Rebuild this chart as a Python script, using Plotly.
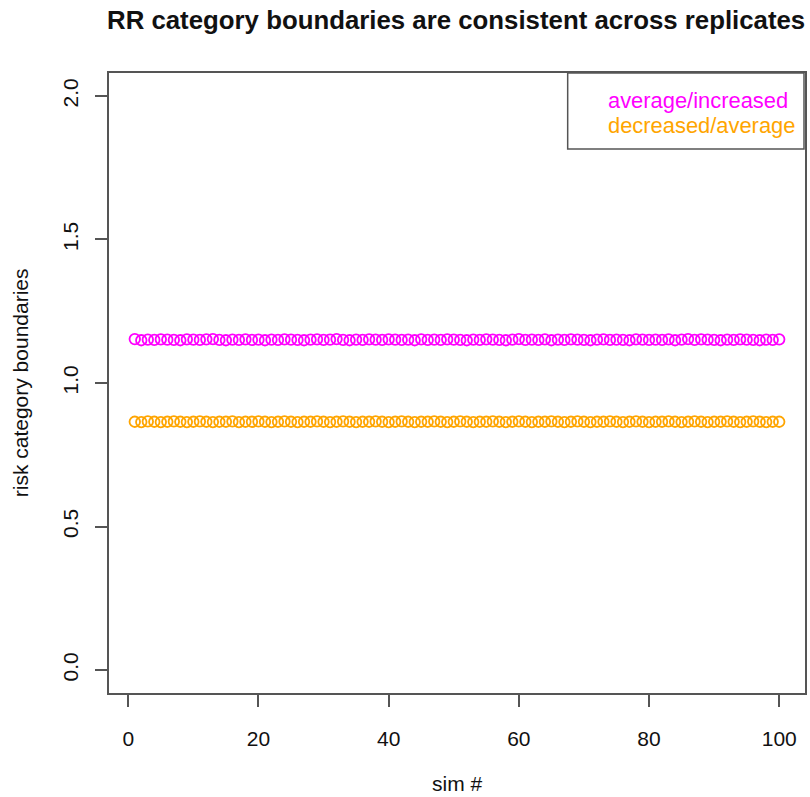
import plotly.graph_objects as go

sim = list(range(1, 101))

avg_increased = [
    1.153, 1.149, 1.151, 1.150, 1.152, 1.151, 1.150, 1.149, 1.152, 1.151,
    1.150, 1.152, 1.153, 1.150, 1.149, 1.151, 1.150, 1.152, 1.150, 1.151,
    1.149, 1.151, 1.150, 1.152, 1.151, 1.150, 1.149, 1.151, 1.152, 1.150,
    1.151, 1.153, 1.150, 1.149, 1.151, 1.150, 1.152, 1.151, 1.150, 1.152,
    1.151, 1.150, 1.151, 1.149, 1.152, 1.150, 1.151, 1.150, 1.152, 1.151,
    1.150, 1.149, 1.151, 1.150, 1.152, 1.151, 1.150, 1.149, 1.151, 1.153,
    1.150, 1.151, 1.150, 1.152, 1.149, 1.151, 1.150, 1.152, 1.151, 1.150,
    1.149, 1.151, 1.152, 1.150, 1.151, 1.150, 1.149, 1.152, 1.151, 1.150,
    1.151, 1.150, 1.152, 1.149, 1.151, 1.153, 1.150, 1.152, 1.151, 1.150,
    1.149, 1.151, 1.150, 1.152, 1.151, 1.150, 1.149, 1.151, 1.150, 1.152,
]

dec_average = [
    0.865, 0.864, 0.866, 0.865, 0.864, 0.865, 0.866, 0.865, 0.864, 0.865,
    0.866, 0.865, 0.864, 0.865, 0.865, 0.866, 0.864, 0.865, 0.865, 0.866,
    0.865, 0.864, 0.865, 0.866, 0.865, 0.864, 0.865, 0.865, 0.866, 0.865,
    0.864, 0.865, 0.866, 0.865, 0.864, 0.865, 0.865, 0.866, 0.865, 0.864,
    0.865, 0.866, 0.865, 0.864, 0.865, 0.865, 0.866, 0.865, 0.864, 0.865,
    0.866, 0.865, 0.864, 0.865, 0.865, 0.866, 0.865, 0.864, 0.865, 0.866,
    0.865, 0.864, 0.865, 0.865, 0.866, 0.865, 0.864, 0.865, 0.866, 0.865,
    0.864, 0.865, 0.865, 0.866, 0.865, 0.864, 0.865, 0.866, 0.865, 0.864,
    0.865, 0.865, 0.866, 0.865, 0.864, 0.865, 0.866, 0.865, 0.864, 0.865,
    0.865, 0.866, 0.865, 0.864, 0.865, 0.866, 0.865, 0.864, 0.865, 0.865,
]

x_ticks = [0, 20, 40, 60, 80, 100]
y_ticks = [0.0, 0.5, 1.0, 1.5, 2.0]
y_tick_labels = ["0.0", "0.5", "1.0", "1.5", "2.0"]

title_text = "RR category boundaries are consistent across replicates"
x_title = "sim #"
y_title = "risk category boundaries"
legend_labels = ["average/increased", "decreased/average"]
colors = ["#FF00FF", "#FFA500"]

FONT = "Liberation Sans, Arial, Helvetica, sans-serif"
AXCOL = "#555555"
TXT = "#111111"

fig = go.Figure()
for vals, col, name in [(avg_increased, colors[0], legend_labels[0]),
                        (dec_average, colors[1], legend_labels[1])]:
    fig.add_trace(go.Scatter(
        x=sim, y=vals, mode="markers", name=name,
        marker=dict(symbol="circle-open", size=10.5, color=col,
                    line=dict(width=1.8, color=col)),
        showlegend=False,
    ))

W, H = 810, 797
L, R, T = 109, 3, 73
pw = W - L - R          # 698
ph = 620
B = H - T - ph          # 104

def px(x):
    return (x - L) / pw

def py(y):
    return (T + ph - y) / ph

fig.update_layout(
    width=W, height=H,
    margin=dict(l=L, r=R, t=T, b=B, pad=0),
    paper_bgcolor="white", plot_bgcolor="white",
    font=dict(family=FONT, size=21, color=TXT),
    xaxis=dict(range=[-2.96, 103.96], tickvals=x_ticks,
               ticktext=[str(v) for v in x_ticks],
               showgrid=False, zeroline=False,
               showline=True, mirror=True, linecolor=AXCOL, linewidth=2,
               ticks="outside", ticklen=12, tickwidth=1.5, tickcolor=AXCOL,
               tickfont=dict(size=21, family=FONT, color=TXT),
               ticklabelstandoff=14),
    yaxis=dict(range=[-0.08, 2.08], tickvals=y_ticks, ticktext=y_tick_labels,
               showgrid=False, zeroline=False,
               showline=True, mirror=True, linecolor=AXCOL, linewidth=2,
               ticks="outside", ticklen=12, tickwidth=1.5, tickcolor=AXCOL,
               tickangle=-90,
               tickfont=dict(size=21, family=FONT, color=TXT),
               ticklabelstandoff=9),
)

# title
fig.add_annotation(text="<b>" + title_text + "</b>", xref="paper", yref="paper",
                   x=px(457), y=py(20.5), xanchor="center", yanchor="middle",
                   showarrow=False, font=dict(size=25.8, family=FONT, color=TXT))

# axis titles
fig.add_annotation(text=x_title, xref="paper", yref="paper",
                   x=px(458), y=py(783), xanchor="center", yanchor="middle",
                   showarrow=False, font=dict(size=21, family=FONT, color=TXT))
fig.add_annotation(text=y_title, xref="paper", yref="paper", textangle=-90,
                   x=px(20), y=py(383), xanchor="center", yanchor="middle",
                   showarrow=False, font=dict(size=21, family=FONT, color=TXT))

# legend box
fig.add_shape(type="rect", xref="paper", yref="paper",
              x0=px(569), x1=px(806), y0=py(149), y1=py(73),
              line=dict(color=AXCOL, width=1.5), fillcolor="rgba(0,0,0,0)")
for i, (lab, col) in enumerate(zip(legend_labels, colors)):
    fig.add_annotation(text=lab, xref="paper", yref="paper",
                       x=px(607), y=py(100 + 25 * i), xanchor="left", yanchor="middle",
                       showarrow=False, font=dict(size=21.9, family=FONT, color=col))

fig.write_html("out.html",
               config={"displayModeBar": False},
               post_script="document.body.style.margin='0px';"
                           "document.body.style.overflow='hidden';")
